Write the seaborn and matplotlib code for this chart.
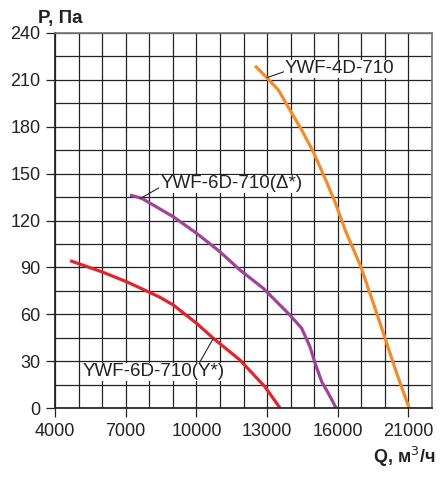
import matplotlib
matplotlib.use("Agg")
import matplotlib.pyplot as plt
import numpy as np
import pandas as pd
import seaborn as sns

# values (Q in m3/h, P in Pa)
q_4d = [12490, 12990, 13480, 13970, 14470, 14960, 15460, 15880, 16570,
        17650, 18520, 19350, 20170, 21050]
p_4d = [219, 211.4, 203.5, 190.7, 177.9, 164, 147, 132, 113,
        90, 67, 44.6, 22.2, 0]

q_6d_delta = [7180, 7680, 9020, 10010, 11000, 11850, 12840, 13340, 13970, 14470,
              14820, 15040, 15320, 15600, 15930]
p_6d_delta = [136.3, 134.2, 122.4, 111.8, 100, 88.3, 76.6, 69, 59.5, 51,
              39.2, 28.6, 16.8, 9.4, 0]

q_6d_y = [4640, 5980, 7040, 7960, 8460, 9020, 10010, 10720, 11850, 12910, 13550]
p_6d_y = [94.3, 87.2, 80.8, 74.4, 70.8, 65.9, 54.2, 44.6, 30.7, 13.6, 0]

names = ["YWF-4D-710", "YWF-6D-710(Δ*)", "YWF-6D-710(Y*)"]
colors = ["#F28C28", "#A0449A", "#E3242B"]

x_ticks = [4000, 7000, 10000, 13000, 16000, 21000]
y_ticks = [0, 30, 60, 90, 120, 150, 180, 210, 240]


# the original axis is linear up to 16000, then 3 cells for 5000
def fwd(q):
    q = np.asarray(q, dtype=float)
    return np.where(q <= 16000, (q - 4000) / 1000, 12 + (q - 16000) * 3 / 5000)


def inv(c):
    c = np.asarray(c, dtype=float)
    return np.where(c <= 12, 4000 + c * 1000, 16000 + (c - 12) * 5000 / 3)


df = pd.concat([
    pd.DataFrame({"Q": q_4d, "P": p_4d, "model": names[0]}),
    pd.DataFrame({"Q": q_6d_delta, "P": p_6d_delta, "model": names[1]}),
    pd.DataFrame({"Q": q_6d_y, "P": p_6d_y, "model": names[2]}),
])

sns.set_theme(style="white")
plt.rcParams["font.family"] = ["Liberation Sans", "DejaVu Sans"]

fig = plt.figure(figsize=(4.48, 4.78), dpi=100)
ax = fig.add_axes([0.1228, 0.1464, 0.8415, 0.7846])
ax.set_xscale("function", functions=(fwd, inv))

sns.lineplot(data=df, x="Q", y="P", hue="model", palette=dict(zip(names, colors)),
             estimator=None, sort=False, linewidth=2.3, legend=False, ax=ax,
             solid_joinstyle="round", solid_capstyle="butt")

x_max = float(inv(16))
ax.set_xlim(4000, x_max)
ax.set_ylim(0, 240)
ax.set_xticks(x_ticks)
ax.set_xticklabels([str(t) for t in x_ticks])
ax.set_xticks([float(inv(c)) for c in range(17)], minor=True)
ax.set_yticks(y_ticks)
ax.set_yticks(np.arange(0, 241, 15), minor=True)
ax.grid(which="both", color="#222222", linewidth=0.9)
ax.set_axisbelow(True)
ax.tick_params(axis="both", which="major", length=6.5, width=0.9, color="#222222",
               labelsize=13, labelcolor="#222222", pad=4, bottom=True, left=True)
ax.tick_params(axis="both", which="minor", length=0)
for side in ["left", "bottom"]:
    ax.spines[side].set_color("#222222")
for side in ["top", "right"]:
    ax.spines[side].set_color("#777777")
ax.set_xlabel("")
ax.set_ylabel("")

box = dict(facecolor="white", edgecolor="none", pad=0.5)


def leader(rel):
    return dict(arrowstyle="-", color="#222222", linewidth=0.8,
                shrinkA=0, shrinkB=0, relpos=rel)


ax.annotate(names[0], xy=(13010, 211.5), xytext=(13750, 217), ha="left", va="center",
            fontsize=13.5, color="#222222", bbox=box, arrowprops=leader((0.0, 0.35)),
            zorder=5)
ax.annotate(names[1], xy=(7610, 134), xytext=(8460, 143.5), ha="left", va="center",
            fontsize=13.5, color="#222222", bbox=box, arrowprops=leader((0.0, 0.3)),
            zorder=5)
ax.annotate(names[2], xy=(10720, 44.6), xytext=(5150, 23.2), ha="left", va="center",
            fontsize=13.5, color="#222222", bbox=box, arrowprops=leader((0.82, 0.95)),
            zorder=5)

fig.text(38 / 448, 1 - 19 / 478, "P, Па", fontsize=13.5, fontweight="bold",
         color="#222222", ha="left", va="center")
fig.text(435 / 448, 1 - 457 / 478, "Q, м$^3$/ч", fontsize=13, fontweight="bold",
         color="#222222", ha="right", va="center")

fig.savefig("out.png", dpi=100)
plt.close(fig)
